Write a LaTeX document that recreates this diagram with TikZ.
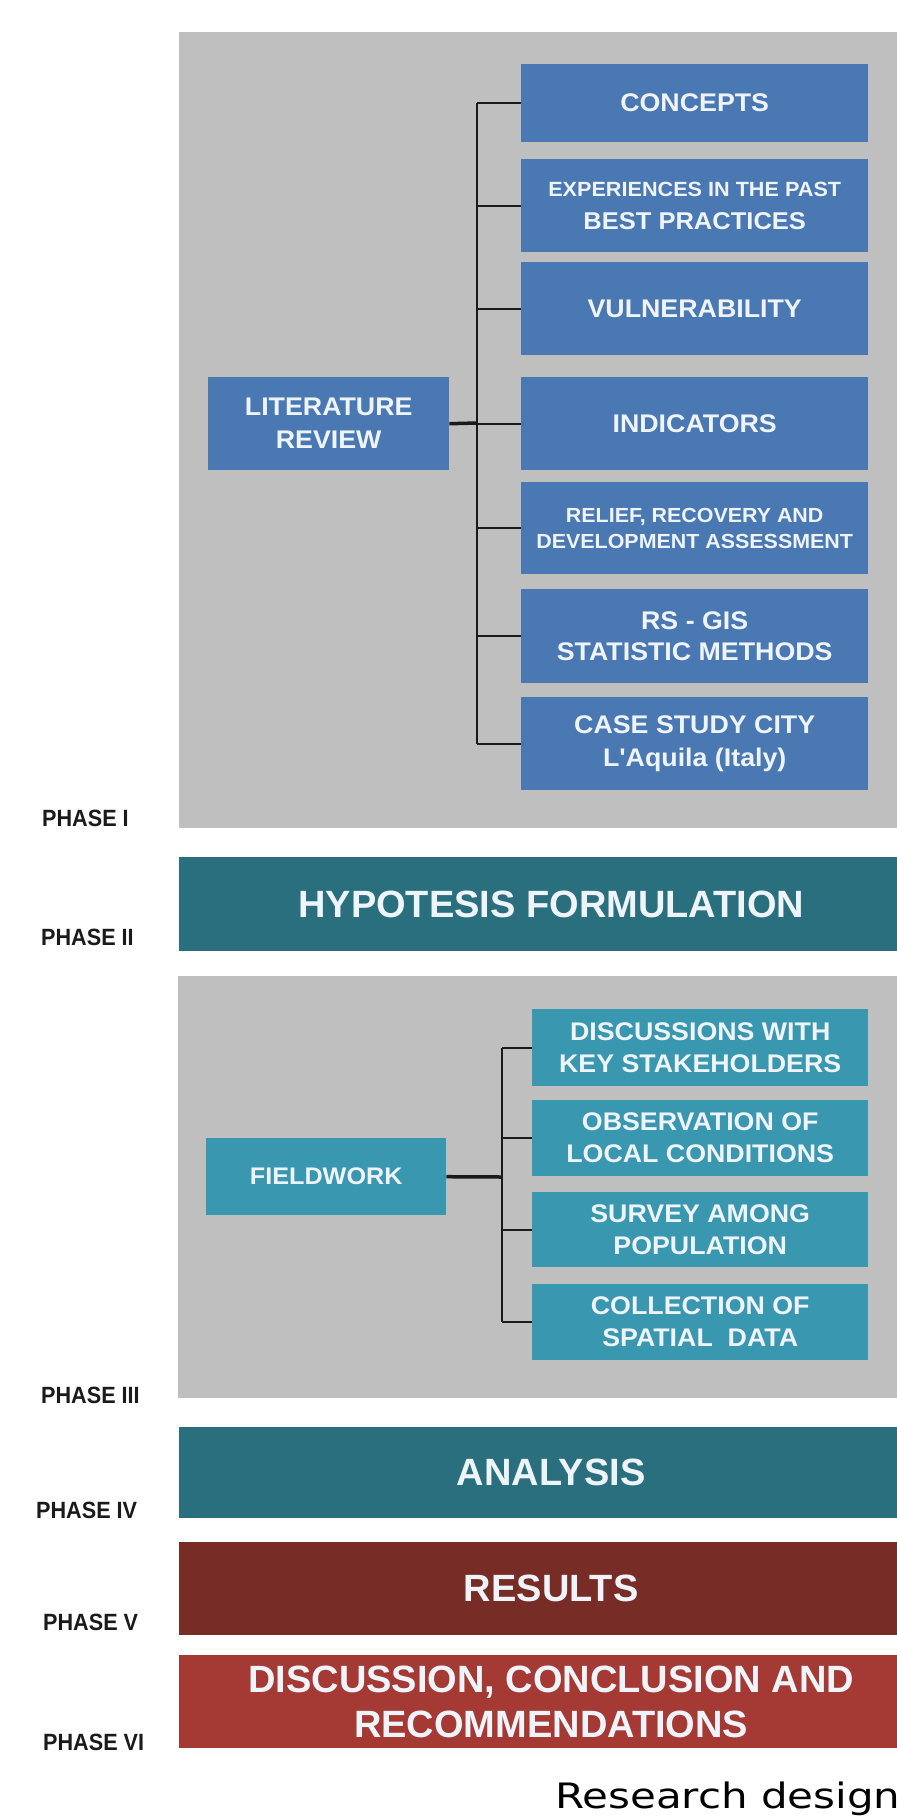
\documentclass[tikz,border=0pt]{standalone}
\usepackage{fontspec}
\setmainfont{Liberation Sans}
\newfontfamily\labfont[FakeStretch=1.05]{Liberation Sans}
\newfontfamily\bandfont{Liberation Sans}
\newfontfamily\phasefont[FakeStretch=0.92]{Liberation Sans}
\newfontfamily\capfont[FakeStretch=1.2]{DejaVu Sans}
\definecolor{panelgray}{HTML}{BFBFBF}
\definecolor{boxblue}{HTML}{4A78B3}
\definecolor{boxteal}{HTML}{3A97B0}
\definecolor{banddark}{HTML}{2A6F7E}
\definecolor{bandres}{HTML}{772C25}
\definecolor{banddisc}{HTML}{A43A33}
\definecolor{boxtext}{HTML}{EEF4FA}
\definecolor{linecol}{HTML}{1A1A1A}
\tikzset{
  panel/.style={fill=panelgray, draw=none, inner sep=0pt, anchor=north west, minimum width=760pt},
  bluebox/.style={fill=boxblue, text=boxtext, inner sep=0pt, anchor=north west, align=center,
    minimum width=347pt, font=\labfont\bfseries\fontsize{25.5}{33}\selectfont},
  tealbox/.style={fill=boxteal, text=boxtext, inner sep=0pt, anchor=north west, align=center,
    minimum width=336pt, font=\labfont\bfseries\fontsize{25.5}{32}\selectfont},
  band/.style={inner sep=0pt, anchor=north west, align=center, text=boxtext,
    minimum width=744pt, font=\bandfont\bfseries\fontsize{38}{45}\selectfont},
  phase/.style={anchor=west, inner sep=0pt, text=linecol, font=\phasefont\bfseries\fontsize{23.5}{28}\selectfont},
  conn/.style={draw=linecol, line width=2pt},
  mainconn/.style={draw=linecol, line width=3.5pt},
}
\begin{document}
\begin{tikzpicture}[x=1pt,y=-1pt]
\useasboundingbox (0,0) rectangle (897,1816);
\begin{scope}
\clip (0,0) rectangle (897,1816);
% panels and bands
\node[panel, minimum height=796pt] (p1) at (179,32) {};
\node[band, fill=banddark, minimum height=94pt] (hyp) at (179,857) {HYPOTESIS FORMULATION};
\node[panel, minimum height=422pt] (p3) at (178,976) {};
\node[band, fill=banddark, minimum height=91pt] (ana) at (179,1427) {ANALYSIS};
\node[band, fill=bandres, minimum height=93pt] (res) at (179,1542) {RESULTS};
\node[band, fill=banddisc, minimum height=93pt] (dis) at (179,1655) {DISCUSSION, CONCLUSION AND\\RECOMMENDATIONS};

% phase I boxes
\node[bluebox, minimum width=241pt, minimum height=93pt] (lit) at (208,377) {LITERATURE\\REVIEW};
\node[bluebox, minimum height=78pt] (c1) at (521,64) {CONCEPTS};
\node[bluebox, minimum height=93pt] (c2) at (521,159) {{\fontsize{20.6}{33}\selectfont EXPERIENCES IN THE PAST}\\{\fontsize{24.3}{33}\selectfont BEST PRACTICES}};
\node[bluebox, minimum height=93pt] (c3) at (521,262) {VULNERABILITY};
\node[bluebox, minimum height=93pt] (c4) at (521,377) {INDICATORS};
\node[bluebox, minimum height=92pt, font=\labfont\bfseries\fontsize{20.4}{26}\selectfont] (c5) at (521,482) {RELIEF, RECOVERY AND\\DEVELOPMENT ASSESSMENT};
\node[bluebox, minimum height=94pt, font=\labfont\bfseries\fontsize{25.5}{31}\selectfont] (c6) at (521,589) {RS - GIS\\STATISTIC METHODS};
\node[bluebox, minimum height=93pt] (c7) at (521,697) {CASE STUDY CITY\\L'Aquila (Italy)};

\coordinate (b1) at (477,423);
\draw[mainconn] (lit.east) -- (b1);
\draw[conn] (b1 |- c1.west) -- (b1 |- c7.west);
\foreach \n in {c1,c2,c3,c4,c5,c6,c7}{
  \draw[conn] (b1 |- \n.west) -- (\n.west);
}

% phase III boxes
\node[tealbox, minimum width=240pt, minimum height=77pt, font=\labfont\bfseries\fontsize{24}{30}\selectfont] (fw) at (206,1138) {FIELDWORK};
\node[tealbox, minimum height=77pt] (f1) at (532,1009) {DISCUSSIONS WITH\\KEY STAKEHOLDERS};
\node[tealbox, minimum height=76pt] (f2) at (532,1100) {OBSERVATION OF\\LOCAL CONDITIONS};
\node[tealbox, minimum height=75pt] (f3) at (532,1192) {SURVEY AMONG\\POPULATION};
\node[tealbox, minimum height=76pt] (f4) at (532,1284) {COLLECTION OF\\SPATIAL\ \ DATA};

\coordinate (b2) at (502,1177);
\draw[mainconn] (fw.east) -- (b2);
\draw[conn] (b2 |- f1.west) -- (b2 |- f4.west);
\foreach \n in {f1,f2,f3,f4}{
  \draw[conn] (b2 |- \n.west) -- (\n.west);
}

% phase labels
\node[phase] (ph1) at (42,818) {PHASE I};
\node[phase] (ph2) at (41,937) {PHASE II};
\node[phase] (ph3) at (41,1395) {PHASE III};
\node[phase] (ph4) at (36,1510) {PHASE IV};
\node[phase] (ph5) at (43,1622) {PHASE V};
\node[phase] (ph6) at (43,1742) {PHASE VI};

% caption
\node[anchor=base west, inner sep=0pt, text=black, font=\capfont\fontsize{35}{40}\selectfont] (cap) at (555,1808) {Research design};
\end{scope}
\end{tikzpicture}
\end{document}
